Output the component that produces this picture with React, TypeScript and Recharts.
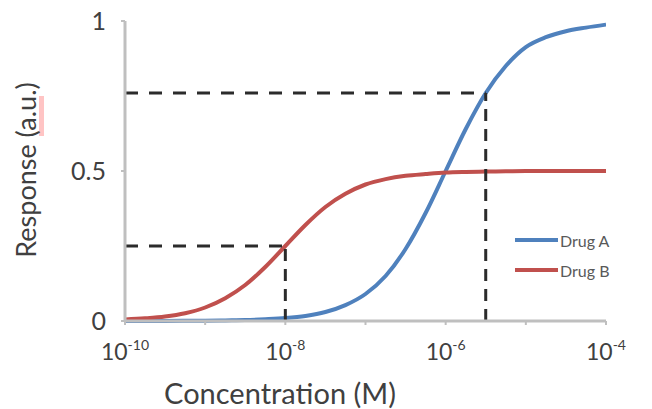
import React from 'react';
import { LineChart, Line, XAxis, YAxis, ReferenceLine } from 'recharts';

// Concentrations (M), quarter-decade steps from 1e-10 to 1e-4
const concentrations = [
  1e-10, 1.78e-10, 3.16e-10, 5.62e-10,
  1e-9, 1.78e-9, 3.16e-9, 5.62e-9,
  1e-8, 1.78e-8, 3.16e-8, 5.62e-8,
  1e-7, 1.78e-7, 3.16e-7, 5.62e-7,
  1e-6, 1.78e-6, 3.16e-6, 5.62e-6,
  1e-5, 1.78e-5, 3.16e-5, 5.62e-5,
  1e-4,
];
const drugA = [
  0.0001, 0.0002, 0.0003, 0.0006,
  0.001, 0.002, 0.003, 0.006,
  0.01, 0.017, 0.03, 0.053,
  0.09, 0.15, 0.24, 0.36,
  0.5, 0.64, 0.76, 0.85,
  0.913, 0.946, 0.966, 0.978,
  0.988,
];
const drugB = [
  0.005, 0.009, 0.015, 0.026,
  0.045, 0.076, 0.12, 0.18,
  0.25, 0.32, 0.38, 0.424,
  0.455, 0.473, 0.484, 0.49,
  0.495, 0.497, 0.498, 0.499,
  0.5, 0.5, 0.5, 0.5,
  0.5,
];
const seriesNames = ['Drug A', 'Drug B'];
const seriesColors = ['#4f81bd', '#c0504d'];

const xTicks = [1e-10, 1e-9, 1e-8, 1e-7, 1e-6, 1e-5, 1e-4];
const xTickExponents = ['-10', '', '-8', '', '-6', '', '-4'];
const yTicks = [0, 0.5, 1];
const yTickLabels = ['0', '0.5', '1'];
const xTitle = 'Concentration (M)';
const yTitle = 'Response (a.u.)';

// Dashed guide lines: [concentration, response]
const guideX = [1e-8, 3.16e-6];
const guideY = [0.25, 0.76];

const data = concentrations.map((c, i) => ({ c, a: drugA[i], b: drugB[i] }));

const FONT = 'Lato, "Open Sans", sans-serif';
const TEXT = '#404040';

const XTick = (props: any) => {
  const { x, y, index } = props;
  const exp = xTickExponents[index];
  if (!exp) return null;
  return (
    <text x={x} y={y + 33} textAnchor="middle" fontFamily={FONT} fill={TEXT} fontSize={23}>
      <tspan>10</tspan>
      <tspan dy={-10} fontSize={14}>{exp}</tspan>
    </text>
  );
};

const YTick = (props: any) => {
  const { x, y, index } = props;
  return (
    <text x={x - 13} y={y + 9} textAnchor="end" fontFamily={FONT} fill={TEXT} fontSize={25}>
      {yTickLabels[index]}
    </text>
  );
};

const XTitle = () => (
  <text x={280} y={404} textAnchor="middle" fontFamily={FONT} fill={TEXT} fontSize={29}>
    {xTitle}
  </text>
);

const YTitle = () => (
  <g>
    <rect x={39} y={96} width={5} height={40} fill="#ffc4c4" />
    <text
      x={36}
      y={170}
      textAnchor="middle"
      transform="rotate(-90 36 170)"
      fontFamily={FONT}
      fill={TEXT}
      fontSize={27}
    >
      {yTitle}
    </text>
  </g>
);

export default function App() {
  return (
    <div style={{ position: 'absolute', left: 0, top: 0, width: 652, height: 409, background: '#fff' }}>
      <LineChart width={652} height={409} data={data} margin={{ top: 21, right: 46, left: 0, bottom: 0 }}>
        <XAxis
          dataKey="c"
          type="number"
          scale="log"
          domain={[1e-10, 1e-4]}
          ticks={xTicks}
          allowDataOverflow
          height={88}
          axisLine={{ stroke: '#bfbfbf', strokeWidth: 3 }}
          tickLine={{ stroke: '#bfbfbf', strokeWidth: 2 }}
          tickSize={4}
          tick={<XTick />}
          interval={0}
          label={<XTitle />}
        />
        <YAxis
          type="number"
          domain={[0, 1]}
          ticks={yTicks}
          width={125}
          axisLine={{ stroke: '#bfbfbf', strokeWidth: 3 }}
          tickLine={{ stroke: '#bfbfbf', strokeWidth: 2 }}
          tickSize={4}
          tick={<YTick />}
          interval={0}
          label={<YTitle />}
        />
        <Line dataKey="a" name={seriesNames[0]} stroke={seriesColors[0]} strokeWidth={4} dot={false} type="monotone" isAnimationActive={false} />
        <Line dataKey="b" name={seriesNames[1]} stroke={seriesColors[1]} strokeWidth={4} dot={false} type="monotone" isAnimationActive={false} />
        {guideX.map((gx, i) => (
          <ReferenceLine
            key={'h' + i}
            segment={[{ x: 1e-10, y: guideY[i] }, { x: gx, y: guideY[i] }]}
            stroke="#2b2b2b"
            strokeWidth={3}
            strokeDasharray="13 11"
          />
        ))}
        {guideX.map((gx, i) => (
          <ReferenceLine
            key={'v' + i}
            segment={[{ x: gx, y: 0 }, { x: gx, y: guideY[i] }]}
            stroke="#2b2b2b"
            strokeWidth={3}
            strokeDasharray="12 8"
          />
        ))}
      </LineChart>
      <div
        style={{
          position: 'absolute',
          left: 515,
          top: 225,
          fontFamily: FONT,
          color: '#595959',
          fontSize: 16,
        }}
      >
        {seriesNames.map((n, i) => (
          <div key={n} style={{ display: 'flex', alignItems: 'center', height: 30 }}>
            <div style={{ width: 43, height: 4, background: seriesColors[i], marginRight: 2 }} />
            <span>{n}</span>
          </div>
        ))}
      </div>
    </div>
  );
}
